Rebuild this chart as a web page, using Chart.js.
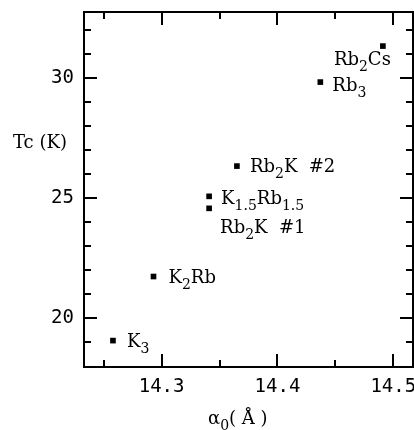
<!DOCTYPE html>
<html>
<head>
<meta charset="utf-8">
<script src="https://cdn.jsdelivr.net/npm/chart.js@4.4.0/dist/chart.umd.min.js"></script>
<style>
    body { margin: 0; background: #fff; }
    #wrap { width: 414px; height: 430px; }
</style>
</head>
<body>
<div id="wrap"><canvas id="chart"></canvas></div>
<script>
// compostos: "_" marca o subscrito
var compounds = ["K_3", "K_2Rb", "K_1.5Rb_1.5", "Rb_2K  #1", "Rb_2K  #2", "Rb_3", "Rb_2Cs"];
var latticeA = [14.258, 14.293, 14.341, 14.341, 14.365, 14.437, 14.491];
var tcValues = [19.06, 21.73, 25.07, 24.57, 26.33, 29.83, 31.33];

var xTicks = [14.25, 14.3, 14.35, 14.4, 14.45, 14.5];
var xLabeled = [14.3, 14.4, 14.5];
var yTicks = [19, 20, 21, 22, 23, 24, 25, 26, 27, 28, 29, 30, 31, 32];
var yLabeled = [20, 25, 30];

var xTitle = "\u03b1_0( \u00c5 )";
var yTitle = "Tc (K)";

// deslocamento dos rótulos (px) em relação ao ponto
var labelOffsets = [
    [14, 0, 'left'], [15, 0, 'left'], [12, 2, 'left'], [11, 19, 'left'],
    [13, 0, 'left'], [12, 3, 'left'], [8, 13, 'right']
];

var LABEL_FONT = '"DejaVu Serif", serif';
var TICK_FONT = '"DejaVu Sans Mono", monospace';

// divide "Rb_2K" em pedaços normais / subscritos
function splitRich(str) {
    var parts = [];
    var re = /_([0-9.]+)/g;
    var last = 0, m;
    while ((m = re.exec(str)) !== null) {
        if (m.index > last) parts.push({ t: str.slice(last, m.index), sub: false });
        parts.push({ t: m[1], sub: true });
        last = re.lastIndex;
    }
    if (last < str.length) parts.push({ t: str.slice(last), sub: false });
    return parts;
}

function drawRich(ctx, str, x, y, align, size) {
    var subSize = Math.round(size * 0.78);
    var parts = splitRich(str);
    var total = 0;
    parts.forEach(function (p) {
        ctx.font = (p.sub ? subSize : size) + 'px ' + LABEL_FONT;
        p.w = ctx.measureText(p.t).width;
        total += p.w;
    });
    var cx = align === 'right' ? x - total : x;
    var base = y + Math.round(size * 0.36);
    parts.forEach(function (p) {
        ctx.font = (p.sub ? subSize : size) + 'px ' + LABEL_FONT;
        ctx.fillText(p.t, cx, p.sub ? base + 6 : base);
        cx += p.w;
    });
}

var framePlugin = {
    id: 'frame',
    afterDraw: function (chart) {
        var ctx = chart.ctx;
        var a = chart.chartArea;
        var xs = chart.scales.x, ys = chart.scales.y;
        ctx.save();
        ctx.strokeStyle = '#000';
        ctx.lineWidth = 2;
        ctx.strokeRect(a.left, a.top, a.right - a.left, a.bottom - a.top);

        ctx.beginPath();
        xTicks.forEach(function (v) {
            var px = Math.round(xs.getPixelForValue(v));
            var len = xLabeled.indexOf(v) >= 0 ? 13 : 7;
            ctx.moveTo(px, a.bottom); ctx.lineTo(px, a.bottom - len);
            ctx.moveTo(px, a.top); ctx.lineTo(px, a.top + len);
        });
        yTicks.forEach(function (v) {
            var py = Math.round(ys.getPixelForValue(v));
            var len = yLabeled.indexOf(v) >= 0 ? 13 : 7;
            ctx.moveTo(a.left, py); ctx.lineTo(a.left + len, py);
            ctx.moveTo(a.right, py); ctx.lineTo(a.right - len, py);
        });
        ctx.stroke();

        ctx.fillStyle = '#000';

        // valores do eixo x (desenhados aqui para não encolher a área)
        ctx.font = '19px ' + TICK_FONT;
        ctx.textAlign = 'center';
        ctx.textBaseline = 'middle';
        xLabeled.forEach(function (v) {
            ctx.fillText(v.toFixed(1), xs.getPixelForValue(v), a.bottom + 20);
        });

        // rótulos dos pontos
        ctx.textBaseline = 'alphabetic';
        ctx.textAlign = 'left';
        var meta = chart.getDatasetMeta(0);
        meta.data.forEach(function (pt, i) {
            var off = labelOffsets[i];
            drawRich(ctx, compounds[i], pt.x + off[0], pt.y + off[1], off[2], 18);
        });

        // títulos dos eixos
        drawRich(ctx, yTitle, a.left - 71, a.top + 130, 'left', 18);
        drawRich(ctx, xTitle, a.left + 124, a.bottom + 51, 'left', 18);
        ctx.restore();
    }
};

var points = latticeA.map(function (v, i) {
    return { x: v, y: tcValues[i] };
});

var ctx = document.getElementById('chart').getContext('2d');
var chart = new Chart(ctx, {
    type: 'scatter',
    data: {
        datasets: [{
            data: points,
            pointStyle: 'rect',
            pointRadius: 4,
            pointHoverRadius: 4,
            pointBorderWidth: 0,
            backgroundColor: '#000',
            borderColor: '#000'
        }]
    },
    plugins: [framePlugin],
    options: {
        responsive: true,
        maintainAspectRatio: false,
        animation: false,
        layout: { autoPadding: false, padding: { top: 12, right: 1, left: 0, bottom: 0 } },
        plugins: {
            legend: { display: false },
            tooltip: { enabled: false }
        },
        scales: {
            x: {
                type: 'linear',
                min: 14.233,
                max: 14.517,
                afterBuildTicks: function (scale) {
                    scale.ticks = xTicks.map(function (v) { return { value: v }; });
                },
                afterFit: function (scale) {
                    scale.height = 63;
                },
                grid: { display: false, drawTicks: false },
                border: { display: false },
                ticks: { display: false }
            },
            y: {
                type: 'linear',
                min: 17.96,
                max: 32.75,
                afterBuildTicks: function (scale) {
                    scale.ticks = yTicks.map(function (v) { return { value: v }; });
                },
                afterFit: function (scale) {
                    scale.width = 84;
                    scale.paddingTop = 0;
                    scale.paddingBottom = 0;
                },
                grid: { display: false, drawTicks: false },
                border: { display: false },
                ticks: {
                    padding: 10,
                    color: '#000',
                    autoSkip: false,
                    font: { family: TICK_FONT, size: 19 },
                    callback: function (value) {
                        return yLabeled.indexOf(value) >= 0 ? String(value) : '';
                    }
                }
            }
        }
    }
});
</script>
</body>
</html>
